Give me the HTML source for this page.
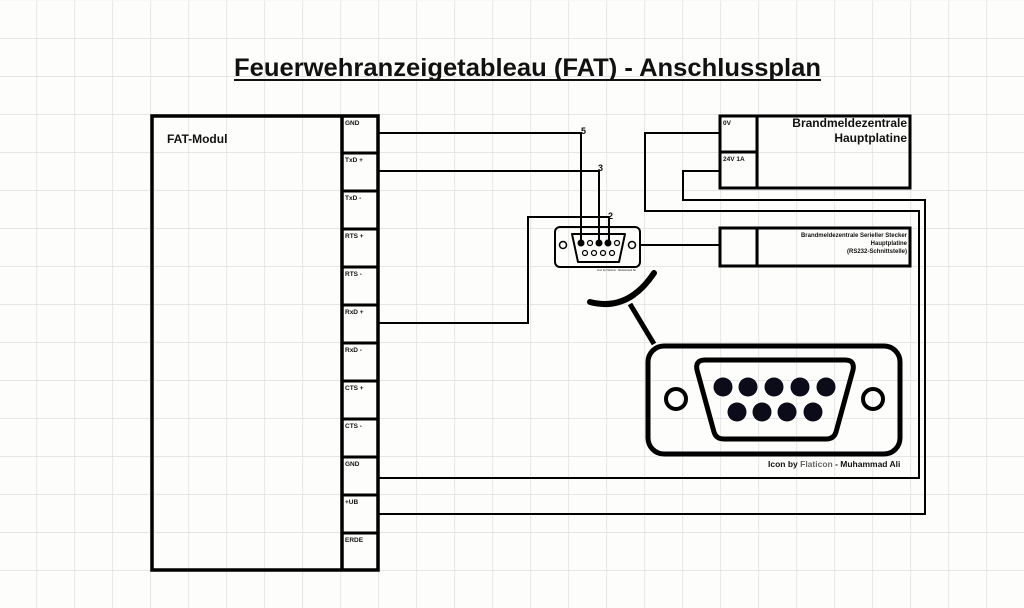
<!DOCTYPE html>
<html><head><meta charset="utf-8"><style>
html,body{margin:0;padding:0;background:#fff}
svg{display:block}
text{font-family:"Liberation Sans",sans-serif;font-weight:bold;fill:#111}
</style></head><body>
<svg width="1024" height="608" viewBox="0 0 1024 608" xmlns="http://www.w3.org/2000/svg">
<defs>
<pattern id="g" x="36.5" y="0" width="38" height="38" patternUnits="userSpaceOnUse">
<path d="M0 0V38M0 0H38" stroke="#d8d8d8" stroke-width="1.2" fill="none"/>
</pattern>
</defs>
<rect width="1024" height="608" fill="#fdfdfc"/>
<rect width="1024" height="608" fill="url(#g)" y="0.5"/>

<text x="234" y="76" font-size="25" textLength="587" lengthAdjust="spacingAndGlyphs">Feuerwehranzeigetableau (FAT) - Anschlussplan</text>
<line x1="234" y1="80" x2="821" y2="80" stroke="#111" stroke-width="2"/>

<g fill="none" stroke="#000">
<!-- FAT module -->
<rect x="152" y="116" width="226" height="454" stroke-width="3.5"/>
<line x1="342" y1="116" x2="342" y2="570" stroke-width="3.5"/>
<g stroke-width="3">
<line x1="342" y1="153" x2="378" y2="153"/><line x1="342" y1="191" x2="378" y2="191"/>
<line x1="342" y1="229" x2="378" y2="229"/><line x1="342" y1="267" x2="378" y2="267"/>
<line x1="342" y1="305" x2="378" y2="305"/><line x1="342" y1="343" x2="378" y2="343"/>
<line x1="342" y1="381" x2="378" y2="381"/><line x1="342" y1="419" x2="378" y2="419"/>
<line x1="342" y1="457" x2="378" y2="457"/><line x1="342" y1="495" x2="378" y2="495"/>
<line x1="342" y1="533" x2="378" y2="533"/>
</g>
<!-- wires -->
<g stroke-width="2">
<polyline points="379,133 581,133 581,243"/>
<polyline points="379,171 599,171 599,243"/>
<polyline points="379,323 528,323 528,217 609,217 609,243"/>
<polyline points="720,133 645,133 645,211 919,211 919,478 379,478"/>
<polyline points="720,171 683,171 683,200 925,200 925,514 379,514"/>
<line x1="640" y1="245" x2="720" y2="245"/>
</g>
<!-- Brandmelde boxes -->
<rect x="720" y="116" width="190" height="72" stroke-width="3"/>
<line x1="757" y1="116" x2="757" y2="188" stroke-width="3"/>
<line x1="720" y1="152" x2="757" y2="152" stroke-width="3"/>
<rect x="720" y="228" width="190" height="38" stroke-width="3"/>
<line x1="757" y1="228" x2="757" y2="266" stroke-width="3"/>
<!-- small connector -->
<rect x="555" y="227" width="85" height="40" rx="5" stroke-width="2"/>
<path d="M572,234 H625 L619,262 H578 Z" stroke-width="2" stroke-linejoin="round"/>
<circle cx="563" cy="245" r="3.5" stroke-width="1.5"/>
<circle cx="632" cy="245" r="3.5" stroke-width="1.5"/>
<circle cx="590" cy="243" r="2.5" stroke-width="1.2"/>
<circle cx="617" cy="243" r="2.5" stroke-width="1.2"/>
<circle cx="585" cy="253" r="2.5" stroke-width="1.2"/>
<circle cx="594" cy="253" r="2.5" stroke-width="1.2"/>
<circle cx="603" cy="253" r="2.5" stroke-width="1.2"/>
<circle cx="612" cy="253" r="2.5" stroke-width="1.2"/>
<!-- big connector -->
<path d="M590,302 Q628,312 654,273" stroke-width="6" stroke-linecap="round"/>
<line x1="630" y1="304" x2="654" y2="344" stroke-width="5"/>
<rect x="648" y="346" width="252" height="108" rx="16" stroke-width="5"/>
<path d="M705,360 H845 Q855,360 853,370 L836,432 Q834,439 826,439 H724 Q716,439 714,432 L697,370 Q695,360 705,360 Z" stroke-width="5"/>
<circle cx="676" cy="399" r="10" stroke-width="4"/>
<circle cx="873" cy="399" r="10" stroke-width="4"/>
</g>
<g fill="#000">
<circle cx="581" cy="243" r="3.5"/><circle cx="599" cy="243" r="3.5"/><circle cx="608" cy="243" r="3.5"/>
</g>
<g fill="#0b0b1a">
<circle cx="723" cy="387" r="9.5"/><circle cx="748" cy="387" r="9.5"/><circle cx="774" cy="387" r="9.5"/><circle cx="800" cy="387" r="9.5"/><circle cx="826" cy="387" r="9.5"/>
<circle cx="737" cy="412" r="9.5"/><circle cx="762" cy="412" r="9.5"/><circle cx="787" cy="412" r="9.5"/><circle cx="813" cy="412" r="9.5"/>
</g>
<g font-size="5" style="fill:#334">
<text x="720" y="390">5</text><text x="745" y="390">4</text><text x="771" y="390">3</text><text x="797" y="390">2</text><text x="823" y="390">1</text>
<text x="734" y="415">9</text><text x="759" y="415">8</text><text x="784" y="415">7</text><text x="810" y="415">6</text>
</g>

<text x="167" y="143" font-size="12">FAT-Modul</text>
<g font-size="6.5">
<text x="345" y="125">GND</text><text x="345" y="162">TxD +</text><text x="345" y="200">TxD -</text>
<text x="345" y="238">RTS +</text><text x="345" y="276">RTS -</text><text x="345" y="314">RxD +</text>
<text x="345" y="352">RxD -</text><text x="345" y="390">CTS +</text><text x="345" y="428">CTS -</text>
<text x="345" y="466">GND</text><text x="345" y="504">+UB</text><text x="345" y="542">ERDE</text>
<text x="723" y="125">0V</text><text x="723" y="161">24V 1A</text>
</g>
<text x="907" y="127" font-size="12" text-anchor="end">Brandmeldezentrale</text>
<text x="907" y="142" font-size="12" text-anchor="end">Hauptplatine</text>
<g font-size="6" text-anchor="end">
<text x="907" y="237">Brandmeldezentrale Serieller Stecker</text>
<text x="907" y="245">Hauptplatine</text>
<text x="907" y="253">(RS232-Schnittstelle)</text>
</g>
<g font-size="9" font-weight="normal">
<text x="581" y="134">5</text><text x="598" y="171">3</text><text x="608" y="219">2</text>
</g>
<text x="768" y="467" font-size="8.5">Icon by <tspan style="fill:#666">Flaticon</tspan> - Muhammad Ali</text>
<text x="597" y="271" font-size="2.5" style="fill:#555">Icon by Flaticon - Muhammad Ali</text>
</svg>
</body></html>
